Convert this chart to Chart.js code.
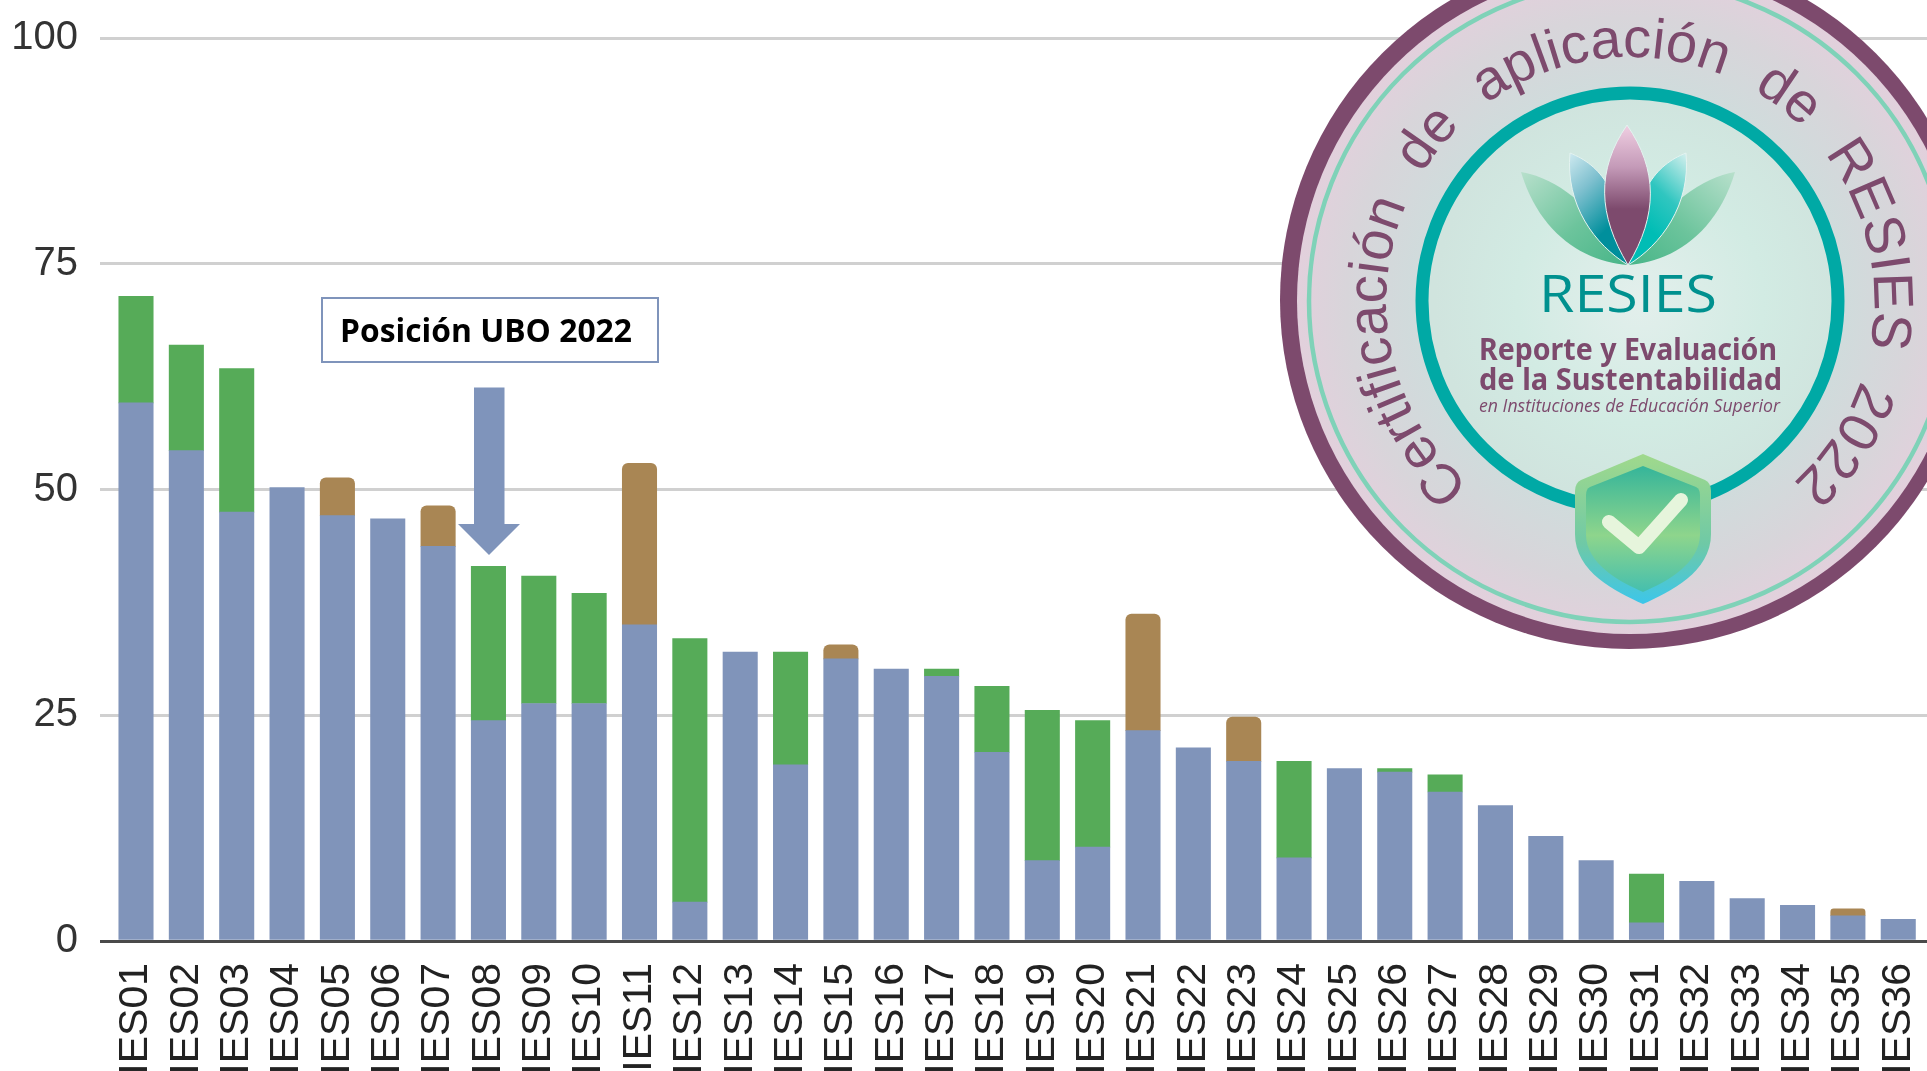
<!DOCTYPE html>
<html lang="es">
<head>
<meta charset="utf-8">
<title>Posición UBO 2022 — RESIES</title>
<script src="https://cdn.jsdelivr.net/npm/chart.js@4/dist/chart.umd.min.js"></script>
<style>
html,body{margin:0;padding:0;background:#fff;overflow:hidden;width:1927px;height:1071px}
#wrap{position:relative;width:1927px;height:1071px;overflow:hidden}
canvas{position:absolute;left:0;top:0}
svg{position:absolute;left:0;top:0}
</style>
</head>
<body>
<div id="wrap">
<canvas id="c" width="1927" height="1071"></canvas>
<svg width="1927" height="1071" viewBox="0 0 1927 1071" xmlns="http://www.w3.org/2000/svg">
  <defs>
    <radialGradient id="field" gradientUnits="userSpaceOnUse" cx="1630" cy="301" r="333">
      <stop offset="0.62" stop-color="#cfdcdc"/><stop offset="0.85" stop-color="#d8d5da"/><stop offset="1" stop-color="#e2d0dc"/>
    </radialGradient>
    <radialGradient id="inner" gradientUnits="userSpaceOnUse" cx="1640" cy="300" r="205">
      <stop offset="0" stop-color="#e3efec"/><stop offset="0.6" stop-color="#d2ebe3"/><stop offset="1" stop-color="#d0e4de"/>
    </radialGradient>
    <linearGradient id="pC" x1="0" y1="0" x2="0" y2="1">
      <stop offset="0" stop-color="#f0cfe2"/><stop offset="0.3" stop-color="#c49ab8"/><stop offset="0.6" stop-color="#7d4a6d"/><stop offset="1" stop-color="#7d4a6d"/>
    </linearGradient>
    <linearGradient id="pL" x1="0" y1="0" x2="0.5" y2="1">
      <stop offset="0" stop-color="#cfeaf0"/><stop offset="0.35" stop-color="#7fc0cf"/><stop offset="0.8" stop-color="#008f9c"/>
    </linearGradient>
    <linearGradient id="pR" x1="1" y1="0" x2="0.5" y2="1">
      <stop offset="0" stop-color="#d6f0ee"/><stop offset="0.45" stop-color="#30c6c0"/><stop offset="0.8" stop-color="#00bdb5"/>
    </linearGradient>
    <linearGradient id="pOL" x1="0" y1="0" x2="1" y2="1">
      <stop offset="0" stop-color="#b8e0cc"/><stop offset="0.55" stop-color="#6cc49c"/><stop offset="1" stop-color="#47b588"/>
    </linearGradient>
    <linearGradient id="pOR" x1="1" y1="0" x2="0" y2="1">
      <stop offset="0" stop-color="#b8e0cc"/><stop offset="0.55" stop-color="#6cc49c"/><stop offset="1" stop-color="#47b588"/>
    </linearGradient>
    <linearGradient id="sO" x1="0" y1="0" x2="0" y2="1">
      <stop offset="0" stop-color="#a0d98c"/><stop offset="0.6" stop-color="#6fc9a6"/><stop offset="1" stop-color="#3cc6ea"/>
    </linearGradient>
    <linearGradient id="sI" x1="0" y1="0" x2="0" y2="1">
      <stop offset="0" stop-color="#35b59a"/><stop offset="0.55" stop-color="#8ed58c"/><stop offset="1" stop-color="#45bfae"/>
    </linearGradient>
    <path id="arc" d="M 1470 485 A 244 244 0 1 1 1770 501" fill="none"/>
  </defs>

  <!-- annotation -->
  <rect x="322" y="298" width="336" height="64" fill="#fff" stroke="#7f94bb" stroke-width="2"/>
  <text x="340" y="342" font-family="'Open Sans'" font-weight="700" font-size="33" fill="#000" textLength="292" lengthAdjust="spacingAndGlyphs">Posición UBO 2022</text>
  <path d="M474 387.5 H504.5 V524 H520 L489 555 L458 524 H474 Z" fill="#7f94bb"/>

  <!-- badge -->
  <circle cx="1629" cy="300" r="349" fill="#7d4a6d"/>
  <circle cx="1630" cy="301" r="333" fill="url(#field)"/>
  <circle cx="1630" cy="301" r="321" fill="none" stroke="#7fd2b8" stroke-width="4.5"/>
  <text font-family="'Liberation Sans'" font-size="56" fill="#7d4a6d" word-spacing="18"><textPath href="#arc" startOffset="0">Certificación de aplicación de RESIES 2022</textPath></text>
  <circle cx="1630" cy="301" r="208" fill="url(#inner)" stroke="#00a9a5" stroke-width="13"/>

  <g>
    <path d="M1628 265 C1585 262 1540 235 1521 172 C1555 178 1595 205 1628 265 Z" fill="url(#pOL)"/>
    <path d="M1628 265 C1671 262 1716 235 1735 172 C1701 178 1661 205 1628 265 Z" fill="url(#pOR)"/>
    <path d="M1628 265 C1595 245 1565 205 1570 153 C1600 165 1622 190 1628 265 Z" fill="url(#pL)" stroke="#e4f3f0" stroke-width="1"/>
    <path d="M1628 265 C1661 245 1691 205 1686 153 C1656 165 1634 190 1628 265 Z" fill="url(#pR)" stroke="#e4f3f0" stroke-width="1"/>
    <path d="M1628 265 C1598 215 1596 170 1627 125 C1658 170 1658 215 1628 265 Z" fill="url(#pC)" stroke="#e4f3f0" stroke-width="1"/>
  </g>

  <text x="1628" y="312" text-anchor="middle" font-family="'Open Sans'" font-size="52" fill="#00918f" textLength="178" lengthAdjust="spacingAndGlyphs">RESIES</text>
  <text x="1479" y="360" font-family="'Noto Sans'" font-weight="700" font-size="30" fill="#7d4a6d" textLength="298" lengthAdjust="spacingAndGlyphs">Reporte y Evaluación</text>
  <text x="1479" y="390" font-family="'Noto Sans'" font-weight="700" font-size="30" fill="#7d4a6d" textLength="303" lengthAdjust="spacingAndGlyphs">de la Sustentabilidad</text>
  <text x="1479" y="412" font-family="'Open Sans'" font-style="italic" font-size="19" fill="#7d4a6d" textLength="301" lengthAdjust="spacingAndGlyphs">en Instituciones de Educación Superior</text>

  <path d="M1643 454 L1705 480 Q1711 483 1711 491 L1711 534 C1711 572 1670 592 1643 604 C1616 592 1575 572 1575 534 L1575 491 Q1575 483 1581 480 Z" fill="url(#sO)"/>
  <path d="M1643 466 L1696 487 Q1700 489 1700 495 L1700 534 C1700 564 1666 582 1643 592 C1620 582 1586 564 1586 534 L1586 495 Q1586 489 1590 487 Z" fill="url(#sI)"/>
  <path d="M1609 522 L1639 547 L1681 500" fill="none" stroke="#e6f5dc" stroke-width="14" stroke-linecap="round" stroke-linejoin="round"/>
</svg>
</div>
<script>
const categories = ["IES01","IES02","IES03","IES04","IES05","IES06","IES07","IES08","IES09","IES10","IES11","IES12","IES13","IES14","IES15","IES16","IES17","IES18","IES19","IES20","IES21","IES22","IES23","IES24","IES25","IES26","IES27","IES28","IES29","IES30","IES31","IES32","IES33","IES34","IES35","IES36"];
const blueValues = [59.6,54.3,47.5,50.2,47.1,46.75,43.7,24.4,26.3,26.3,35.0,4.3,32.0,19.5,31.25,30.1,29.3,20.9,8.9,10.4,23.3,21.4,19.9,9.2,19.1,18.7,16.5,15.0,11.6,8.9,2.0,6.6,4.7,3.95,2.8,2.4];
const greenValues = [11.8,11.7,15.9,null,null,null,null,17.1,14.1,12.2,null,29.2,null,12.5,null,null,0.8,7.3,16.65,14.0,null,null,null,10.7,null,0.4,1.9,null,null,null,5.4,null,null,null,null,null];
const brownValues = [null,null,null,null,4.2,null,4.5,null,null,null,17.9,null,null,null,1.55,null,null,null,null,null,12.9,null,4.9,null,null,null,null,null,null,null,null,null,null,null,0.75,null];
const yTicks = [0,25,50,75,100];

const toPoints = arr => arr.map((v,i)=>({x:i,y:v})).filter(p=>p.y!==null);
const BLUE='#8094ba', GREEN='#56ab58', BROWN='#a98654';

new Chart(document.getElementById('c'),{
  type:'bar',
  data:{datasets:[
    {label:'Base',data:toPoints(blueValues),backgroundColor:BLUE,barThickness:34.4,stack:'s'},
    {label:'Verde',data:toPoints(greenValues),backgroundColor:GREEN,barThickness:34.4,stack:'s'},
    {label:'Café',data:toPoints(brownValues),backgroundColor:BROWN,barThickness:34.4,stack:'s',
      borderRadius:{topLeft:6,topRight:6,bottomLeft:0,bottomRight:0},borderSkipped:false}
  ]},
  options:{
    responsive:false,animation:false,
    layout:{padding:{top:38,left:0,right:0,bottom:0}},
    plugins:{legend:{display:false},tooltip:{enabled:false},title:{display:false}},
    scales:{
      x:{
        type:'linear',stacked:true,offset:false,
        min:(100-136)/50.35,max:(1927-136)/50.35,
        grid:{display:false,drawTicks:false},border:{display:false},
        afterBuildTicks:s=>{s.ticks=categories.map((c,i)=>({value:i}));},
        afterFit:s=>{s.height=130;s.paddingLeft=0;s.paddingRight=0;},
        ticks:{
          autoSkip:false,minRotation:90,maxRotation:90,padding:22,
          font:{family:"'Liberation Sans'",size:41},color:'#222',
          callback:v=>categories[v]
        }
      },
      y:{
        stacked:true,min:0,max:100,
        afterBuildTicks:s=>{s.ticks=yTicks.map(v=>({value:v}));},
        afterFit:s=>{s.width=100;s.paddingTop=0;s.paddingBottom=0;},
        grid:{
          drawTicks:false,lineWidth:3,
          color:ctx=>ctx.tick.value===0?'#4a4a4a':'#d0d0d0'
        },
        border:{display:false},
        ticks:{padding:22,font:{family:"'Liberation Sans'",size:40},color:'#333'}
      }
    }
  }
});
</script>
</body>
</html>
